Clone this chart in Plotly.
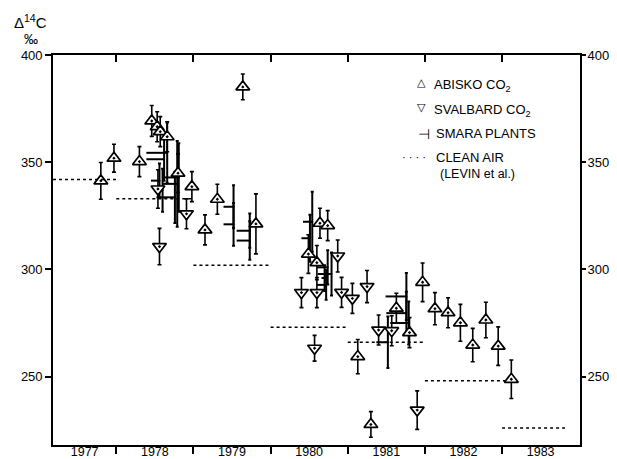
import plotly.graph_objects as go

# ---------------- data ----------------
abisko_x = [1977.80, 1977.97, 1978.30, 1978.46, 1978.53, 1978.57, 1978.66, 1978.80, 1978.98,
            1979.15, 1979.31, 1979.64, 1979.81, 1980.49, 1980.60, 1980.64, 1980.74, 1981.13,
            1981.30, 1981.63, 1981.80, 1981.97, 1982.13, 1982.30, 1982.46, 1982.62, 1982.79,
            1982.95, 1983.12]
abisko_y = [341.4, 352.0, 350.4, 369.4, 366.7, 364.4, 362.0, 345.0, 338.7,
            318.5, 332.8, 385.3, 321.3, 307.2, 303.2, 321.6, 320.5, 259.3,
            227.6, 281.9, 270.5, 294.0, 281.7, 279.8, 275.1, 264.7, 276.4,
            264.2, 248.7]
abisko_err = [8.6, 6.5, 7.0, 7.2, 7.0, 7.0, 7.0, 9.0, 7.0,
              7.0, 7.0, 6.0, 14.0, 9.0, 8.0, 7.0, 7.0, 8.0,
              6.0, 7.0, 7.0, 9.0, 7.5, 7.0, 8.6, 7.8, 8.3,
              9.0, 9.0]

svalbard_x = [1978.54, 1978.56, 1978.91, 1980.40, 1980.57, 1980.60, 1980.87, 1980.92,
              1981.06, 1981.25, 1981.40, 1981.57, 1981.90]
svalbard_y = [337.6, 310.7, 326.0, 289.2, 263.2, 289.2, 306.3, 289.3,
              286.5, 292.0, 271.7, 271.4, 234.3]
svalbard_err = [9.0, 8.5, 7.0, 7.0, 6.0, 7.0, 7.5, 7.0,
                7.0, 7.5, 7.0, 7.0, 9.0]

smara_start = [1978.39, 1978.39, 1978.45, 1978.50, 1978.52, 1978.60, 1978.62,
               1979.39, 1979.39, 1979.56, 1979.56,
               1980.42, 1980.40, 1980.60, 1980.61, 1980.60, 1980.66,
               1981.49, 1981.50, 1981.37, 1981.55]
smara_end = [1978.66, 1978.62, 1978.56, 1978.60, 1978.76, 1978.79, 1978.81,
             1979.52, 1979.52, 1979.73, 1979.73,
             1980.54, 1980.51, 1980.74, 1980.79, 1980.72, 1980.70,
             1981.76, 1981.76, 1981.52, 1981.79]
smara_val = [354.5, 351.5, 341.5, 337.0, 333.7, 340.0, 343.0,
             329.3, 321.1, 318.1, 313.5,
             322.3, 314.6, 301.0, 297.9, 292.8, 296.0,
             287.4, 279.6, 266.0, 275.0]
smara_err = [14, 10, 8, 10, 12, 20, 16,
             10, 10, 8, 9,
             14, 11, 8, 10, 7, 6,
             11, 10, 12, 10]

clean_start = [1977.18, 1978.0, 1979.0, 1980.0, 1981.0, 1982.0, 1983.0]
clean_end = [1978.0, 1979.0, 1980.0, 1981.0, 1982.0, 1983.05, 1983.85]
clean_val = [342.0, 333.0, 302.0, 273.0, 266.0, 248.0, 226.0]

year_labels = ["1977", "1978", "1979", "1980", "1981", "1982", "1983"]
year_bounds = [1978, 1979, 1980, 1981, 1982, 1983]
y_ticks = [250, 300, 350, 400]

X_RANGE = [1977.18, 1984.01]
Y_RANGE = [218.0, 400.2]

FONT = "Liberation Sans"

# label positions at the middle of each visible year interval
label_pos = []
for lab in year_labels:
    y0 = max(float(lab), X_RANGE[0])
    y1 = min(float(lab) + 1, X_RANGE[1])
    label_pos.append((y0 + y1) / 2)

fig = go.Figure()

# Smara plants: horizontal growth period + vertical error bar at the end
fig.add_trace(go.Scatter(
    x=smara_end, y=smara_val, mode="markers",
    marker=dict(size=2, color="black"),
    error_x=dict(type="data", symmetric=False, array=[0] * len(smara_end),
                 arrayminus=[e - s for s, e in zip(smara_start, smara_end)],
                 width=0, thickness=2, color="black"),
    error_y=dict(type="data", array=smara_err, width=1.5, thickness=2, color="black"),
    showlegend=False, hoverinfo="skip"))

# clean air dotted segments (drawn on the mirrored axes, identical ranges)
cx, cy = [], []
for s, e, v in zip(clean_start, clean_end, clean_val):
    cx += [s, e, None]
    cy += [v, v, None]
fig.add_trace(go.Scatter(x=cx, y=cy, mode="lines", xaxis="x2", yaxis="y2",
                         line=dict(color="black", width=1.5, dash="dot"),
                         showlegend=False, hoverinfo="skip"))

# Svalbard
fig.add_trace(go.Scatter(
    x=svalbard_x, y=svalbard_y, mode="markers",
    marker=dict(symbol="triangle-down-dot", size=12, color="white",
                line=dict(color="black", width=1.7)),
    error_y=dict(type="data", array=svalbard_err, width=2, thickness=1.6, color="black"),
    showlegend=False))

# Abisko
fig.add_trace(go.Scatter(
    x=abisko_x, y=abisko_y, mode="markers",
    marker=dict(symbol="triangle-up-dot", size=12, color="white",
                line=dict(color="black", width=1.7)),
    error_y=dict(type="data", array=abisko_err, width=2, thickness=1.6, color="black"),
    showlegend=False))

# page body has an 8px margin: compensate so the frame lands where the reference has it
OFF = 8
W, H = 617 - OFF, 459 - OFF
L, T = 53 - OFF, 55 - OFF
R = (617 - OFF) - (580 - OFF)
B = (459 - OFF) - (445 - OFF)
PW, PH = W - L - R, H - T - B


def px(xp):
    return (xp - OFF - L) / PW


def py(yp):
    return 1 - (yp - OFF - T) / PH


ann_font = dict(family=FONT, size=13, color="black")
annotations = [
    dict(text="Δ<sup>14</sup>C", x=px(30), y=py(21), font=dict(family=FONT, size=15, color="black")),
    dict(text="‰", x=px(31), y=py(39), font=dict(family=FONT, size=14, color="black")),
    dict(text="△", x=px(421.7), y=py(83), font=dict(family="DejaVu Sans", size=11, color="black")),
    dict(text="ABISKO CO<sub>2</sub>", x=px(432), y=py(86), xanchor="left", font=ann_font),
    dict(text="▽", x=px(421.7), y=py(108), font=dict(family="DejaVu Sans", size=11, color="black")),
    dict(text="SVALBARD CO<sub>2</sub>", x=px(432), y=py(111), xanchor="left", font=ann_font),
    dict(text="⊣", x=px(424), y=py(134), font=dict(family="DejaVu Sans", size=14, color="black")),
    dict(text="SMARA PLANTS", x=px(434), y=py(134), xanchor="left", font=ann_font),
    dict(text="· · · ·", x=px(414), y=py(157), font=dict(family=FONT, size=11, color="black")),
    dict(text="CLEAN AIR", x=px(434), y=py(157), xanchor="left", font=ann_font),
    dict(text="(LEVIN et al.)", x=px(438), y=py(174), xanchor="left", font=dict(family=FONT, size=12.5, color="black")),
]
for a in annotations:
    a.setdefault("xanchor", "center")
    a["xref"] = "paper"
    a["yref"] = "paper"
    a["yanchor"] = "middle"
    a["showarrow"] = False

fig.update_layout(
    template="none",
    width=W, height=H,
    margin=dict(l=L, r=R, t=T, b=B, autoexpand=False),
    paper_bgcolor="white", plot_bgcolor="white",
    font=dict(family=FONT, size=13, color="black"),
    showlegend=False,
    annotations=annotations,
    xaxis=dict(range=X_RANGE, showgrid=False, zeroline=False, automargin=False,
               showline=True, linecolor="black", linewidth=1.6, mirror=True,
               tickmode="array", tickvals=label_pos, ticktext=year_labels,
               ticks="", ticklabelstandoff=-6,
               tickfont=dict(family=FONT, size=12.5, color="black"),
               minor=dict(tickmode="array", tickvals=year_bounds, ticks="outside",
                          ticklen=7, tickwidth=1.6, tickcolor="black", showgrid=False)),
    xaxis2=dict(range=X_RANGE, overlaying="x", side="top", anchor="y2",
                showgrid=False, zeroline=False, showline=False, automargin=False,
                tickmode="array", tickvals=year_bounds, ticks="inside",
                ticklen=7, tickwidth=1.6, tickcolor="black", showticklabels=False),
    yaxis=dict(range=Y_RANGE, showgrid=False, zeroline=False, automargin=False,
               showline=True, linecolor="black", linewidth=1.6, mirror=True,
               tickmode="array", tickvals=y_ticks, ticks="outside", ticklen=6,
               tickwidth=1.6, tickcolor="black",
               tickfont=dict(family=FONT, size=13, color="black")),
    yaxis2=dict(range=Y_RANGE, overlaying="y", side="right", anchor="x2",
                showgrid=False, zeroline=False, showline=False, automargin=False,
                tickmode="array", tickvals=y_ticks, ticks="outside", ticklen=5,
                tickwidth=1.6, tickcolor="black", ticklabelstandoff=-1,
                tickfont=dict(family=FONT, size=13, color="black")),
)

fig.write_html("out.html")
